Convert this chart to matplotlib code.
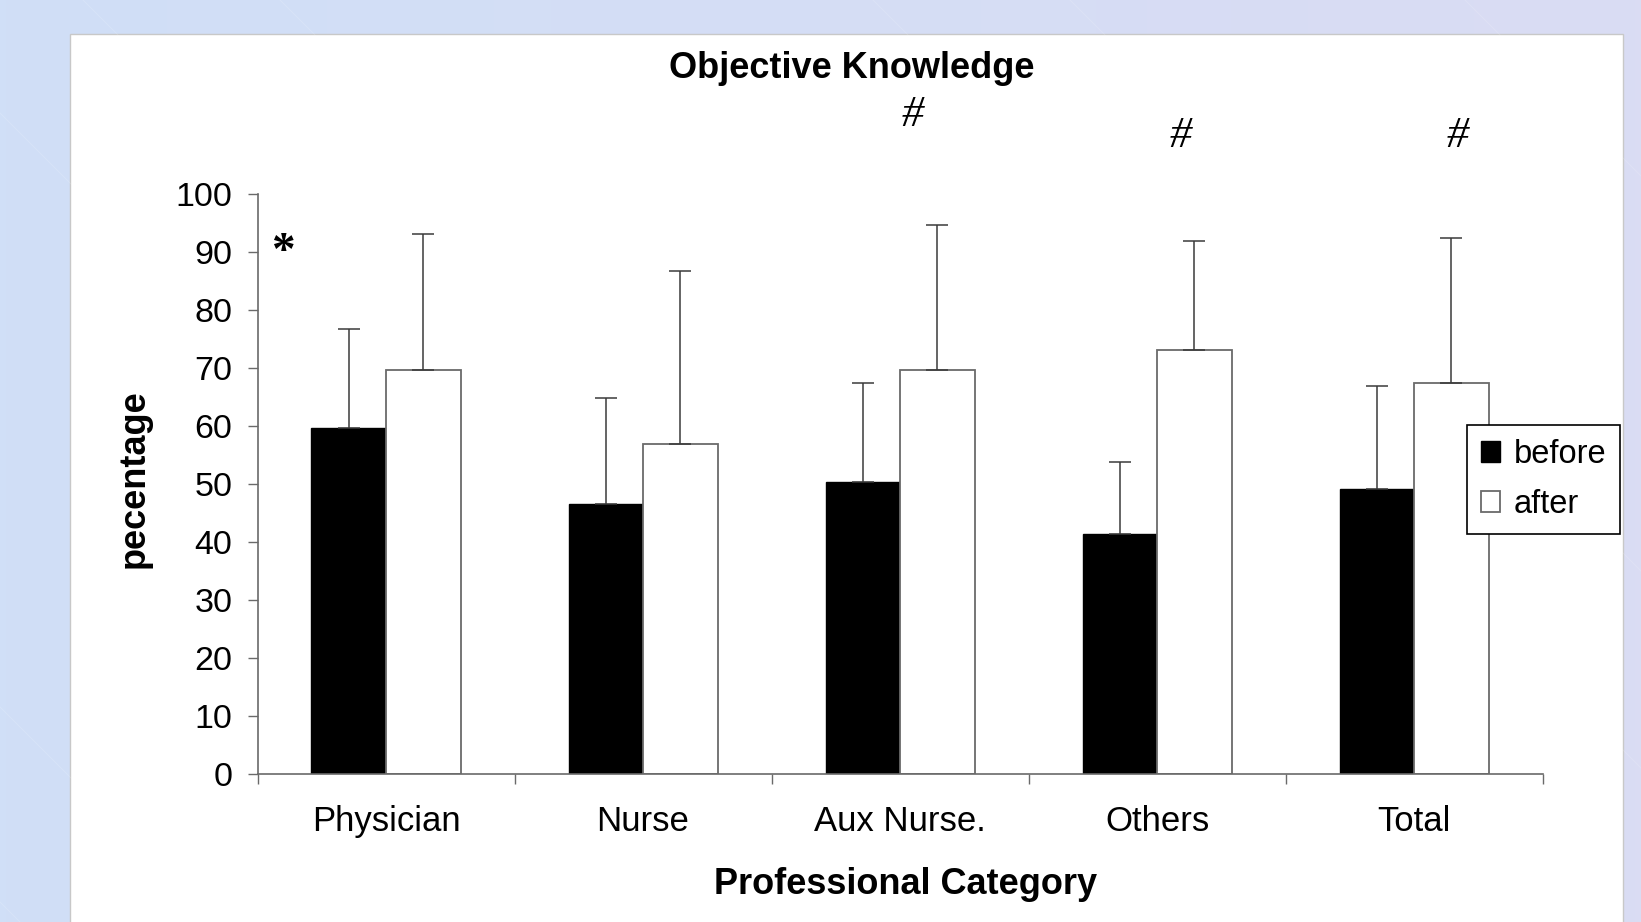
import numpy as np
import matplotlib.pyplot as plt
from matplotlib.patches import Rectangle
from matplotlib.colors import LinearSegmentedColormap

# mean scores (%) before / after the training, with upper SD
categories = ['Physician', 'Nurse', 'Aux Nurse.', 'Others', 'Total']
before = [59.6, 46.4, 50.2, 41.3, 49.1]
after = [69.5, 56.9, 69.5, 73.1, 67.3]
before_sd = [17.1, 18.4, 17.1, 12.5, 17.7]
after_sd = [23.5, 29.7, 25.1, 18.8, 25.1]

# significance marks
marks = ['*', '#', '#', '#']
mark_x = [-0.40, 2.05, 3.09, 4.17]
mark_y = [89.8, 113.5, 110.0, 110.0]

W, H = 1641, 922
fig = plt.figure(figsize=(W / 100, H / 100), dpi=100)

# slide background: blue -> lavender gradient with faint diagonals
bg = fig.add_axes([0, 0, 1, 1])
cmap = LinearSegmentedColormap.from_list('slide', ['#d0dff7', '#dadcf3'])
bg.imshow(np.linspace(0, 1, 256)[None, :], cmap=cmap, aspect='auto',
          extent=[0, W, H, 0])
for c in [-1465, -1070, -873, -280, -83, 113, 707, 902]:
    xs = np.array([0, W])
    bg.plot(xs, xs + c, color='white', lw=0.7, alpha=0.15)
bg.add_patch(Rectangle((70, 34), 1553, H, facecolor='white',
                       edgecolor='#c8c8c8', lw=1))
bg.set_xlim(0, W)
bg.set_ylim(H, 0)
bg.axis('off')

ax = fig.add_axes([257.5 / W, 1 - 773.5 / H, 1285.2 / W, 579.9 / H])
ax.patch.set_alpha(0)

x = np.arange(len(categories))
bw = 0.29
ax.bar(x - bw / 2, before, bw, color='black', edgecolor='black', lw=1,
       label='before', zorder=2)
ax.bar(x + bw / 2, after, bw, color='white', edgecolor='#6a6a6a', lw=1.3,
       label='after', zorder=2)
ax.errorbar(x - bw / 2, before, yerr=[np.zeros(len(x)), before_sd], fmt='none',
            ecolor='#3a3a3a', elinewidth=1.1, capsize=8, capthick=1.1, zorder=3)
ax.errorbar(x + bw / 2, after, yerr=[np.zeros(len(x)), after_sd], fmt='none',
            ecolor='#3a3a3a', elinewidth=1.1, capsize=8, capthick=1.1, zorder=3)

for m, mx, my in zip(marks, mark_x, mark_y):
    if m == '*':
        ax.text(mx, my, m, fontsize=34, fontweight='bold', family='Liberation Serif',
                ha='center', va='center', clip_on=False)
    else:
        ax.text(mx, my, m, fontsize=32, family='Liberation Serif', style='italic',
                ha='center', va='center', clip_on=False)

ax.set_xlim(-0.5, len(categories) - 0.5)
ax.set_ylim(0, 100)
ax.set_yticks(np.arange(0, 101, 10))
ax.set_xticks(np.arange(-0.5, len(categories), 1.0))
ax.set_xticklabels([])
ax.set_xticks(x, minor=True)
ax.set_xticklabels(categories, minor=True)
ax.tick_params(axis='x', which='minor', length=0, pad=23, labelsize=25)
ax.tick_params(axis='x', which='major', direction='out', length=7, width=1,
               color='#6a6a6a')
ax.tick_params(axis='y', direction='out', length=7, width=1, color='#6a6a6a',
               pad=11, labelsize=24.5)
for lab in ax.get_xticklabels(minor=True) + ax.get_yticklabels():
    lab.set_family('Liberation Sans')
for s in ['top', 'right']:
    ax.spines[s].set_visible(False)
for s in ['left', 'bottom']:
    ax.spines[s].set_color('#6a6a6a')
    ax.spines[s].set_linewidth(1.2)

leg = ax.legend(loc='upper left', bbox_to_anchor=(1467 / W, 1 - 425 / H),
                bbox_transform=fig.transFigure, borderaxespad=0,
                fancybox=False, framealpha=1, edgecolor='black',
                handlelength=0.6, handleheight=0.6, handletextpad=0.4,
                labelspacing=0.6, borderpad=0.42,
                prop={'family': 'Liberation Sans', 'size': 23.5})
leg.get_frame().set_linewidth(1.2)
leg.set_zorder(5)

fig.text(852 / W, 1 - 68 / H, 'Objective Knowledge', ha='center', va='center',
         fontsize=26, fontweight='bold', family='Liberation Sans')
fig.text(906 / W, 1 - 884 / H, 'Professional Category', ha='center', va='center',
         fontsize=26, fontweight='bold', family='Liberation Sans')
fig.text(134 / W, 1 - 479 / H, 'pecentage', ha='center', va='center',
         rotation=90, fontsize=26, fontweight='bold', family='Liberation Sans')

fig.savefig('out.png', dpi=100)
